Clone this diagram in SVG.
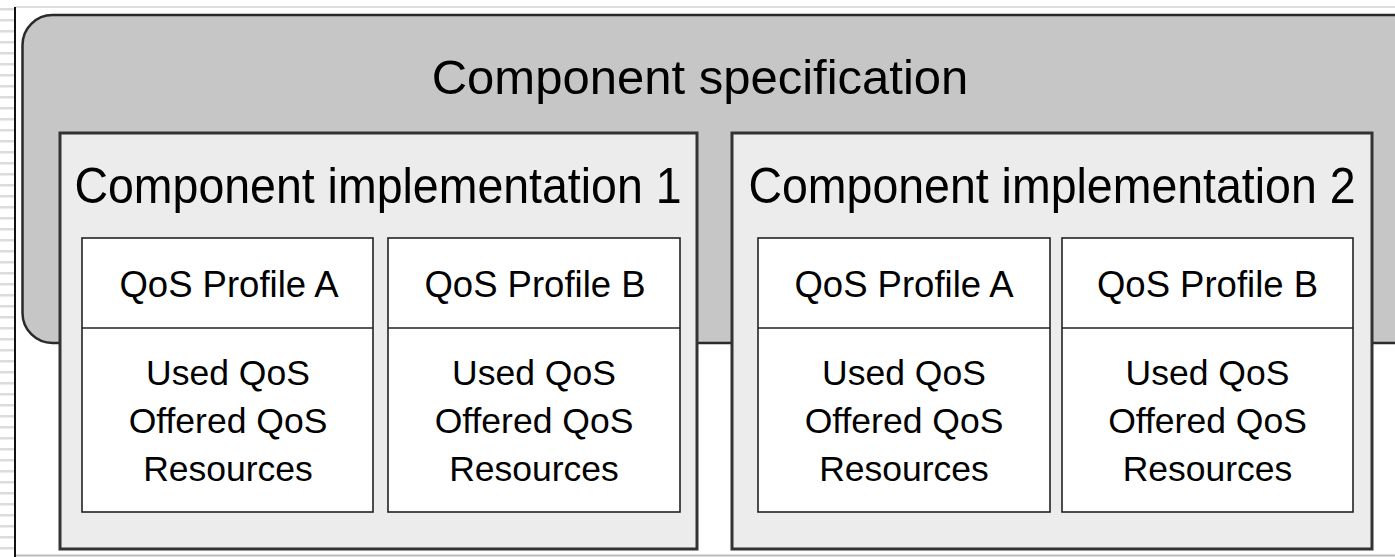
<svg xmlns="http://www.w3.org/2000/svg" width="1395" height="557" viewBox="0 0 1395 557">
  <defs>
    <pattern id="stripes" x="0" y="0" width="14" height="11" patternUnits="userSpaceOnUse">
      <rect x="0" y="0" width="14" height="11" fill="#ffffff"/>
      <rect x="0" y="8" width="14" height="2.5" fill="#dcdcdc"/>
    </pattern>
    <style>
      .spec { fill: #c6c6c6; stroke: #2a2a2a; stroke-width: 2.5; }
      .impl { fill: #ececec; stroke: #333333; stroke-width: 3; }
      .box { fill: #ffffff; stroke: #222222; stroke-width: 1.6; }
      .div { stroke: #222222; stroke-width: 1.6; }
      text { font-family: "Liberation Sans", Arial, sans-serif; fill: #000000; text-anchor: middle; }
      .t1 { font-size: 49px; }
      .t2 { font-size: 46.5px; }
      .t3 { font-size: 36.5px; }
      .t4 { font-size: 35.5px; }
    </style>
  </defs>

  <!-- page margin -->
  <rect x="0" y="0" width="14" height="557" fill="url(#stripes)"/>
  <line x1="15" y1="7" x2="1395" y2="7" stroke="#dddddd" stroke-width="2"/>
  <line x1="15" y1="555.5" x2="1395" y2="555.5" stroke="#bbbbbb" stroke-width="2"/>
  <line x1="15" y1="7" x2="15" y2="557" stroke="#111111" stroke-width="2"/>

  <!-- component specification -->
  <g id="spec">
    <rect class="spec" x="22.5" y="15" width="1400" height="328" rx="30" ry="30"/>
    <text class="t1" x="700" y="94">Component specification</text>
  </g>

  <!-- implementation 1 -->
  <g id="impl1">
    <rect class="impl" x="60" y="133" width="637" height="416"/>
    <text class="t2" transform="translate(378 203) scale(1 1.08)">Component implementation 1</text>
  </g>
  <g id="impl1-profileA">
    <rect class="box" x="82" y="238" width="291" height="274"/>
    <line class="div" x1="82" y1="328" x2="373" y2="328"/>
    <text class="t3" x="229" y="297">QoS Profile A</text>
    <text class="t4" x="228" y="385">Used QoS</text>
    <text class="t4" x="228" y="433">Offered QoS</text>
    <text class="t4" x="228" y="481">Resources</text>
  </g>
  <g id="impl1-profileB">
    <rect class="box" x="388" y="238" width="292" height="274"/>
    <line class="div" x1="388" y1="328" x2="680" y2="328"/>
    <text class="t3" x="535" y="297">QoS Profile B</text>
    <text class="t4" x="534" y="385">Used QoS</text>
    <text class="t4" x="534" y="433">Offered QoS</text>
    <text class="t4" x="534" y="481">Resources</text>
  </g>

  <!-- implementation 2 -->
  <g id="impl2">
    <rect class="impl" x="732" y="133" width="640" height="416"/>
    <text class="t2" transform="translate(1052 203) scale(1 1.08)">Component implementation 2</text>
  </g>
  <g id="impl2-profileA">
    <rect class="box" x="758" y="238" width="292" height="274"/>
    <line class="div" x1="758" y1="328" x2="1050" y2="328"/>
    <text class="t3" x="904" y="297">QoS Profile A</text>
    <text class="t4" x="904" y="385">Used QoS</text>
    <text class="t4" x="904" y="433">Offered QoS</text>
    <text class="t4" x="904" y="481">Resources</text>
  </g>
  <g id="impl2-profileB">
    <rect class="box" x="1062" y="238" width="291" height="274"/>
    <line class="div" x1="1062" y1="328" x2="1353" y2="328"/>
    <text class="t3" x="1207.5" y="297">QoS Profile B</text>
    <text class="t4" x="1207.5" y="385">Used QoS</text>
    <text class="t4" x="1207.5" y="433">Offered QoS</text>
    <text class="t4" x="1207.5" y="481">Resources</text>
  </g>

  <!-- no connectors in this diagram -->
  <g id="connectors"/>
</svg>
